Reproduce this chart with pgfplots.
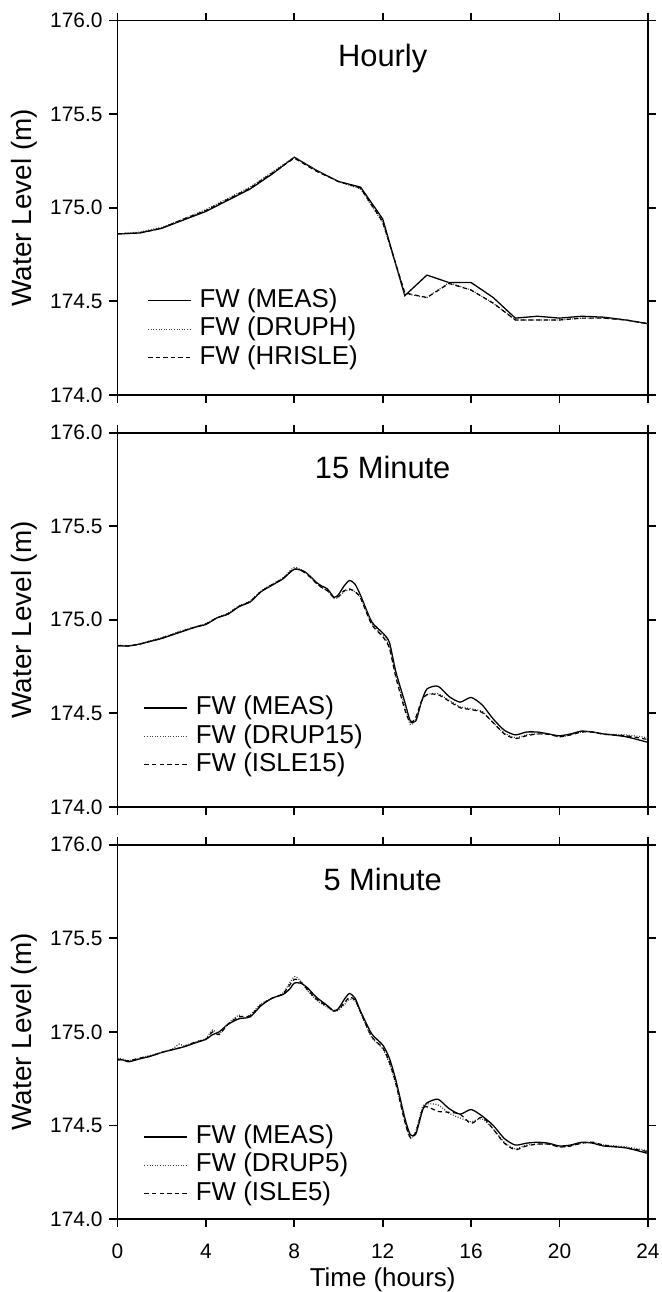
\documentclass[border=0pt]{standalone}
\usepackage{fontspec}
\setmainfont{Liberation Sans}
\usepackage{pgfplots}
\pgfplotsset{compat=1.18}
\usepgfplotslibrary{groupplots}

\pgfplotsset{
  meas/.style={black, line width=0.65pt},
  drup/.style={black!75, line width=0.6pt, dash pattern=on 0.5pt off 0.8pt},
  isle/.style={black, line width=0.6pt, dash pattern=on 2.2pt off 1.6pt},
  legend image code/.code={\draw[#1] (0pt,0pt) -- (21.5pt,0pt);},
}

\begin{document}
\begin{tikzpicture}
\begin{groupplot}[
    group style={group size=1 by 3, vertical sep=19pt,
      xticklabels at=edge bottom, xlabels at=edge bottom},
    scale only axis, width=266.5pt, height=188pt,
    xmin=0, xmax=24, ymin=174, ymax=176,
    xtick={0,4,...,24}, ytick={174,174.5,...,176},
    tick align=outside, major tick length=4pt,
    xtick pos=both, ytick pos=both,
    axis line style={line width=0.9pt}, tick style={line width=0.9pt, black},
    tick label style={font=\fontsize{10.5}{12}\selectfont},
    xticklabel style={inner sep=1pt, yshift=-7.5pt},
    /pgf/number format/assume math mode=true,
    yticklabel style={/pgf/number format/.cd, fixed, fixed zerofill, precision=1},
    every axis y label/.style={at={(axis description cs:0,0.5)}, xshift=-47pt, rotate=90, anchor=center, font=\fontsize{14}{16}\selectfont},
    every axis x label/.style={at={(axis description cs:0.5,0)}, anchor=base, inner sep=0pt, yshift=-34pt, font=\fontsize{13}{15}\selectfont},
    title style={at={(axis description cs:0.5,1)}, anchor=base, yshift=-29pt, font=\fontsize{15.5}{18}\selectfont},
    ylabel={Water Level (m)},
    xlabel={Time (hours)},
    legend cell align=left,
    legend style={draw=none, fill=none, inner sep=0pt, column sep=4pt, row sep=2pt,
      font=\fontsize{13}{15}\selectfont,
      nodes={inner xsep=0pt, inner ysep=0pt, text height=9.5pt, text depth=2.75pt}},
  ]

  % ---------------- Hourly ----------------
  \nextgroupplot[title={Hourly},
    legend style={at={(axis description cs:0.056,0.285)}, anchor=north west}]
  \addplot[meas] coordinates {
    (0,174.86) (1,174.865) (2,174.89) (3,174.935) (4,174.98) (5,175.04)
    (6,175.10) (7,175.18) (8,175.27) (9,175.20) (10,175.14) (11,175.11)
    (12,174.94) (13,174.53) (14,174.64) (15,174.60) (16,174.60) (17,174.52)
    (18,174.41) (19,174.42) (20,174.41) (21,174.42) (22,174.415) (23,174.40) (24,174.38)
  };
  \addlegendentry{FW (MEAS)}
  \addplot[drup] coordinates {
    (0,174.86) (1,174.87) (2,174.895) (3,174.94) (4,174.99) (5,175.05)
    (6,175.11) (7,175.19) (8,175.27) (9,175.20) (10,175.14) (11,175.10)
    (12,174.92) (13,174.54) (14,174.52) (15,174.60) (16,174.56) (17,174.49)
    (18,174.40) (19,174.40) (20,174.40) (21,174.41) (22,174.41) (23,174.40) (24,174.38)
  };
  \addlegendentry{FW (DRUPH)}
  \addplot[isle] coordinates {
    (0,174.86) (1,174.865) (2,174.89) (3,174.94) (4,174.985) (5,175.045)
    (6,175.105) (7,175.185) (8,175.265) (9,175.195) (10,175.14) (11,175.105)
    (12,174.925) (13,174.545) (14,174.52) (15,174.595) (16,174.56) (17,174.49)
    (18,174.40) (19,174.40) (20,174.40) (21,174.41) (22,174.41) (23,174.40) (24,174.38)
  };
  \addlegendentry{FW (HRISLE)}

  % ---------------- 15 Minute ----------------
  \nextgroupplot[title={15 Minute},
    legend style={at={(axis description cs:0.049,0.298)}, anchor=north west}]
  \addplot[meas, smooth, tension=0.4] coordinates {
    (0,174.862) (0.5,174.86) (1,174.87) (1.5,174.885) (2,174.90) (2.5,174.92)
    (3,174.94) (3.5,174.96) (4,174.975) (4.5,175.01) (5,175.03) (5.5,175.07)
    (6,175.095) (6.5,175.15) (7,175.185) (7.5,175.22) (8,175.27) (8.5,175.255)
    (9,175.20) (9.25,175.18) (9.5,175.165) (9.8,175.12) (10,175.135) (10.25,175.18)
    (10.5,175.21) (10.75,175.19) (11,175.13) (11.5,174.99) (12,174.93) (12.3,174.88)
    (12.6,174.72) (13,174.56) (13.25,174.46) (13.5,174.46) (13.75,174.56) (14,174.63)
    (14.5,174.645) (15,174.59) (15.5,174.56) (16,174.585) (16.5,174.545) (17,174.47)
    (17.5,174.41) (18,174.385) (18.5,174.40) (19,174.40) (19.5,174.39) (20,174.38)
    (20.5,174.39) (21,174.405) (21.5,174.40) (22,174.39) (23,174.375) (24,174.345)
  };
  \addlegendentry{FW (MEAS)}
  \addplot[drup, smooth, tension=0.4] coordinates {
    (0,174.865) (0.5,174.862) (1,174.872) (1.5,174.888) (2,174.905) (2.5,174.925)
    (3,174.945) (3.5,174.962) (4,174.98) (4.5,175.012) (5,175.035) (5.5,175.075)
    (6,175.10) (6.5,175.155) (7,175.19) (7.5,175.225) (8,175.28) (8.5,175.255)
    (9,175.195) (9.25,175.17) (9.5,175.155) (9.8,175.115) (10,175.12) (10.25,175.15)
    (10.5,175.16) (10.75,175.15) (11,175.12) (11.5,174.98) (12,174.92) (12.3,174.86)
    (12.6,174.70) (13,174.54) (13.25,174.44) (13.5,174.47) (13.75,174.56) (14,174.60)
    (14.5,174.605) (15,174.57) (15.5,174.535) (16,174.525) (16.5,174.51) (17,174.45)
    (17.5,174.395) (18,174.37) (18.5,174.385) (19,174.39) (19.5,174.39) (20,174.375)
    (20.5,174.385) (21,174.40) (21.5,174.40) (22,174.39) (23,174.385) (24,174.37)
  };
  \addlegendentry{FW (DRUP15)}
  \addplot[isle, smooth, tension=0.4] coordinates {
    (0,174.862) (0.5,174.86) (1,174.87) (1.5,174.886) (2,174.902) (2.5,174.922)
    (3,174.942) (3.5,174.96) (4,174.978) (4.5,175.01) (5,175.032) (5.5,175.072)
    (6,175.098) (6.5,175.152) (7,175.188) (7.5,175.222) (8,175.272) (8.5,175.25)
    (9,175.195) (9.25,175.172) (9.5,175.155) (9.8,175.118) (10,175.125) (10.25,175.155)
    (10.5,175.165) (10.75,175.15) (11,175.115) (11.5,174.975) (12,174.91) (12.3,174.85)
    (12.6,174.69) (13,174.52) (13.25,174.45) (13.5,174.48) (13.75,174.565) (14,174.60)
    (14.5,174.60) (15,174.565) (15.5,174.53) (16,174.52) (16.5,174.505) (17,174.45)
    (17.5,174.39) (18,174.365) (18.5,174.38) (19,174.39) (19.5,174.388) (20,174.375)
    (20.5,174.385) (21,174.40) (21.5,174.40) (22,174.388) (23,174.38) (24,174.36)
  };
  \addlegendentry{FW (ISLE15)}

  % ---------------- 5 Minute ----------------
  \nextgroupplot[title={5 Minute},
    legend style={at={(axis description cs:0.049,0.253)}, anchor=north west}]
  \addplot[meas, smooth, tension=0.4] coordinates {
    (0,174.85) (0.25,174.85) (0.5,174.84) (1,174.855) (1.5,174.87) (2,174.89)
    (2.5,174.905) (3,174.92) (3.5,174.94) (4,174.96) (4.3,174.985) (4.6,175.0)
    (5,175.04) (5.5,175.07) (6,175.08) (6.5,175.14) (7,175.18) (7.5,175.20)
    (7.8,175.23) (8,175.26) (8.3,175.26) (8.6,175.235) (9,175.185) (9.5,175.14)
    (9.8,175.11) (10,175.125) (10.3,175.18) (10.5,175.205) (10.75,175.18) (11,175.11)
    (11.5,174.99) (12,174.93) (12.3,174.86) (12.6,174.74) (13,174.54) (13.25,174.45)
    (13.5,174.455) (13.8,174.58) (14,174.62) (14.5,174.64) (15,174.59) (15.5,174.56)
    (16,174.585) (16.5,174.55) (17,174.50) (17.5,174.43) (18,174.395) (18.5,174.405)
    (19,174.41) (19.5,174.405) (20,174.39) (20.5,174.395) (21,174.41) (21.5,174.405)
    (22,174.39) (23,174.38) (24,174.35)
  };
  \addlegendentry{FW (MEAS)}
  \addplot[drup, smooth, tension=0.4] coordinates {
    (0,174.86) (0.25,174.855) (0.5,174.845) (1,174.86) (1.5,174.875) (2,174.89)
    (2.5,174.91) (2.8,174.935) (3,174.925) (3.5,174.945) (4,174.965) (4.3,175.01)
    (4.6,174.99) (5,175.045) (5.5,175.09) (5.7,175.075) (6,175.09) (6.5,175.15)
    (7,175.18) (7.5,175.21) (8,175.295) (8.3,175.27) (8.6,175.22) (9,175.17)
    (9.5,175.13) (9.8,175.11) (10,175.115) (10.3,175.15) (10.5,175.175) (10.75,175.165)
    (11,175.10) (11.5,174.97) (12,174.91) (12.3,174.83) (12.6,174.72) (13,174.52)
    (13.25,174.43) (13.5,174.47) (13.8,174.60) (14,174.615) (14.5,174.61) (15,174.565)
    (15.5,174.54) (16,174.52) (16.5,174.535) (17,174.48) (17.5,174.41) (18,174.375)
    (18.5,174.395) (19,174.40) (19.5,174.40) (20,174.385) (20.5,174.39) (21,174.405)
    (21.5,174.41) (22,174.395) (23,174.385) (24,174.365)
  };
  \addlegendentry{FW (DRUP5)}
  \addplot[isle, smooth, tension=0.4] coordinates {
    (0,174.855) (0.5,174.845) (1,174.86) (1.5,174.87) (2,174.89) (2.5,174.905)
    (3,174.92) (3.5,174.945) (4,174.96) (4.3,175.0) (4.6,174.985) (5,175.04)
    (5.5,175.08) (6,175.085) (6.5,175.145) (7,175.18) (7.5,175.205) (8,175.28)
    (8.3,175.265) (8.6,175.225) (9,175.175) (9.5,175.135) (9.8,175.115) (10,175.12)
    (10.3,175.16) (10.5,175.185) (10.75,175.17) (11,175.105) (11.5,174.975) (12,174.915)
    (12.3,174.84) (12.6,174.72) (13,174.52) (13.25,174.435) (13.5,174.465) (13.8,174.585)
    (14,174.60) (14.5,174.575) (15,174.57) (15.5,174.56) (16,174.51) (16.5,174.545)
    (17,174.48) (17.5,174.405) (18,174.37) (18.5,174.39) (19,174.40) (19.5,174.40)
    (20,174.385) (20.5,174.39) (21,174.405) (21.5,174.41) (22,174.395) (23,174.38) (24,174.36)
  };
  \addlegendentry{FW (ISLE5)}
\end{groupplot}
\path (group c1r1.north west) ++(-59pt,10.35pt);
\path (group c1r3.south east) ++(6pt,-33.85pt);
\end{tikzpicture}
\end{document}
